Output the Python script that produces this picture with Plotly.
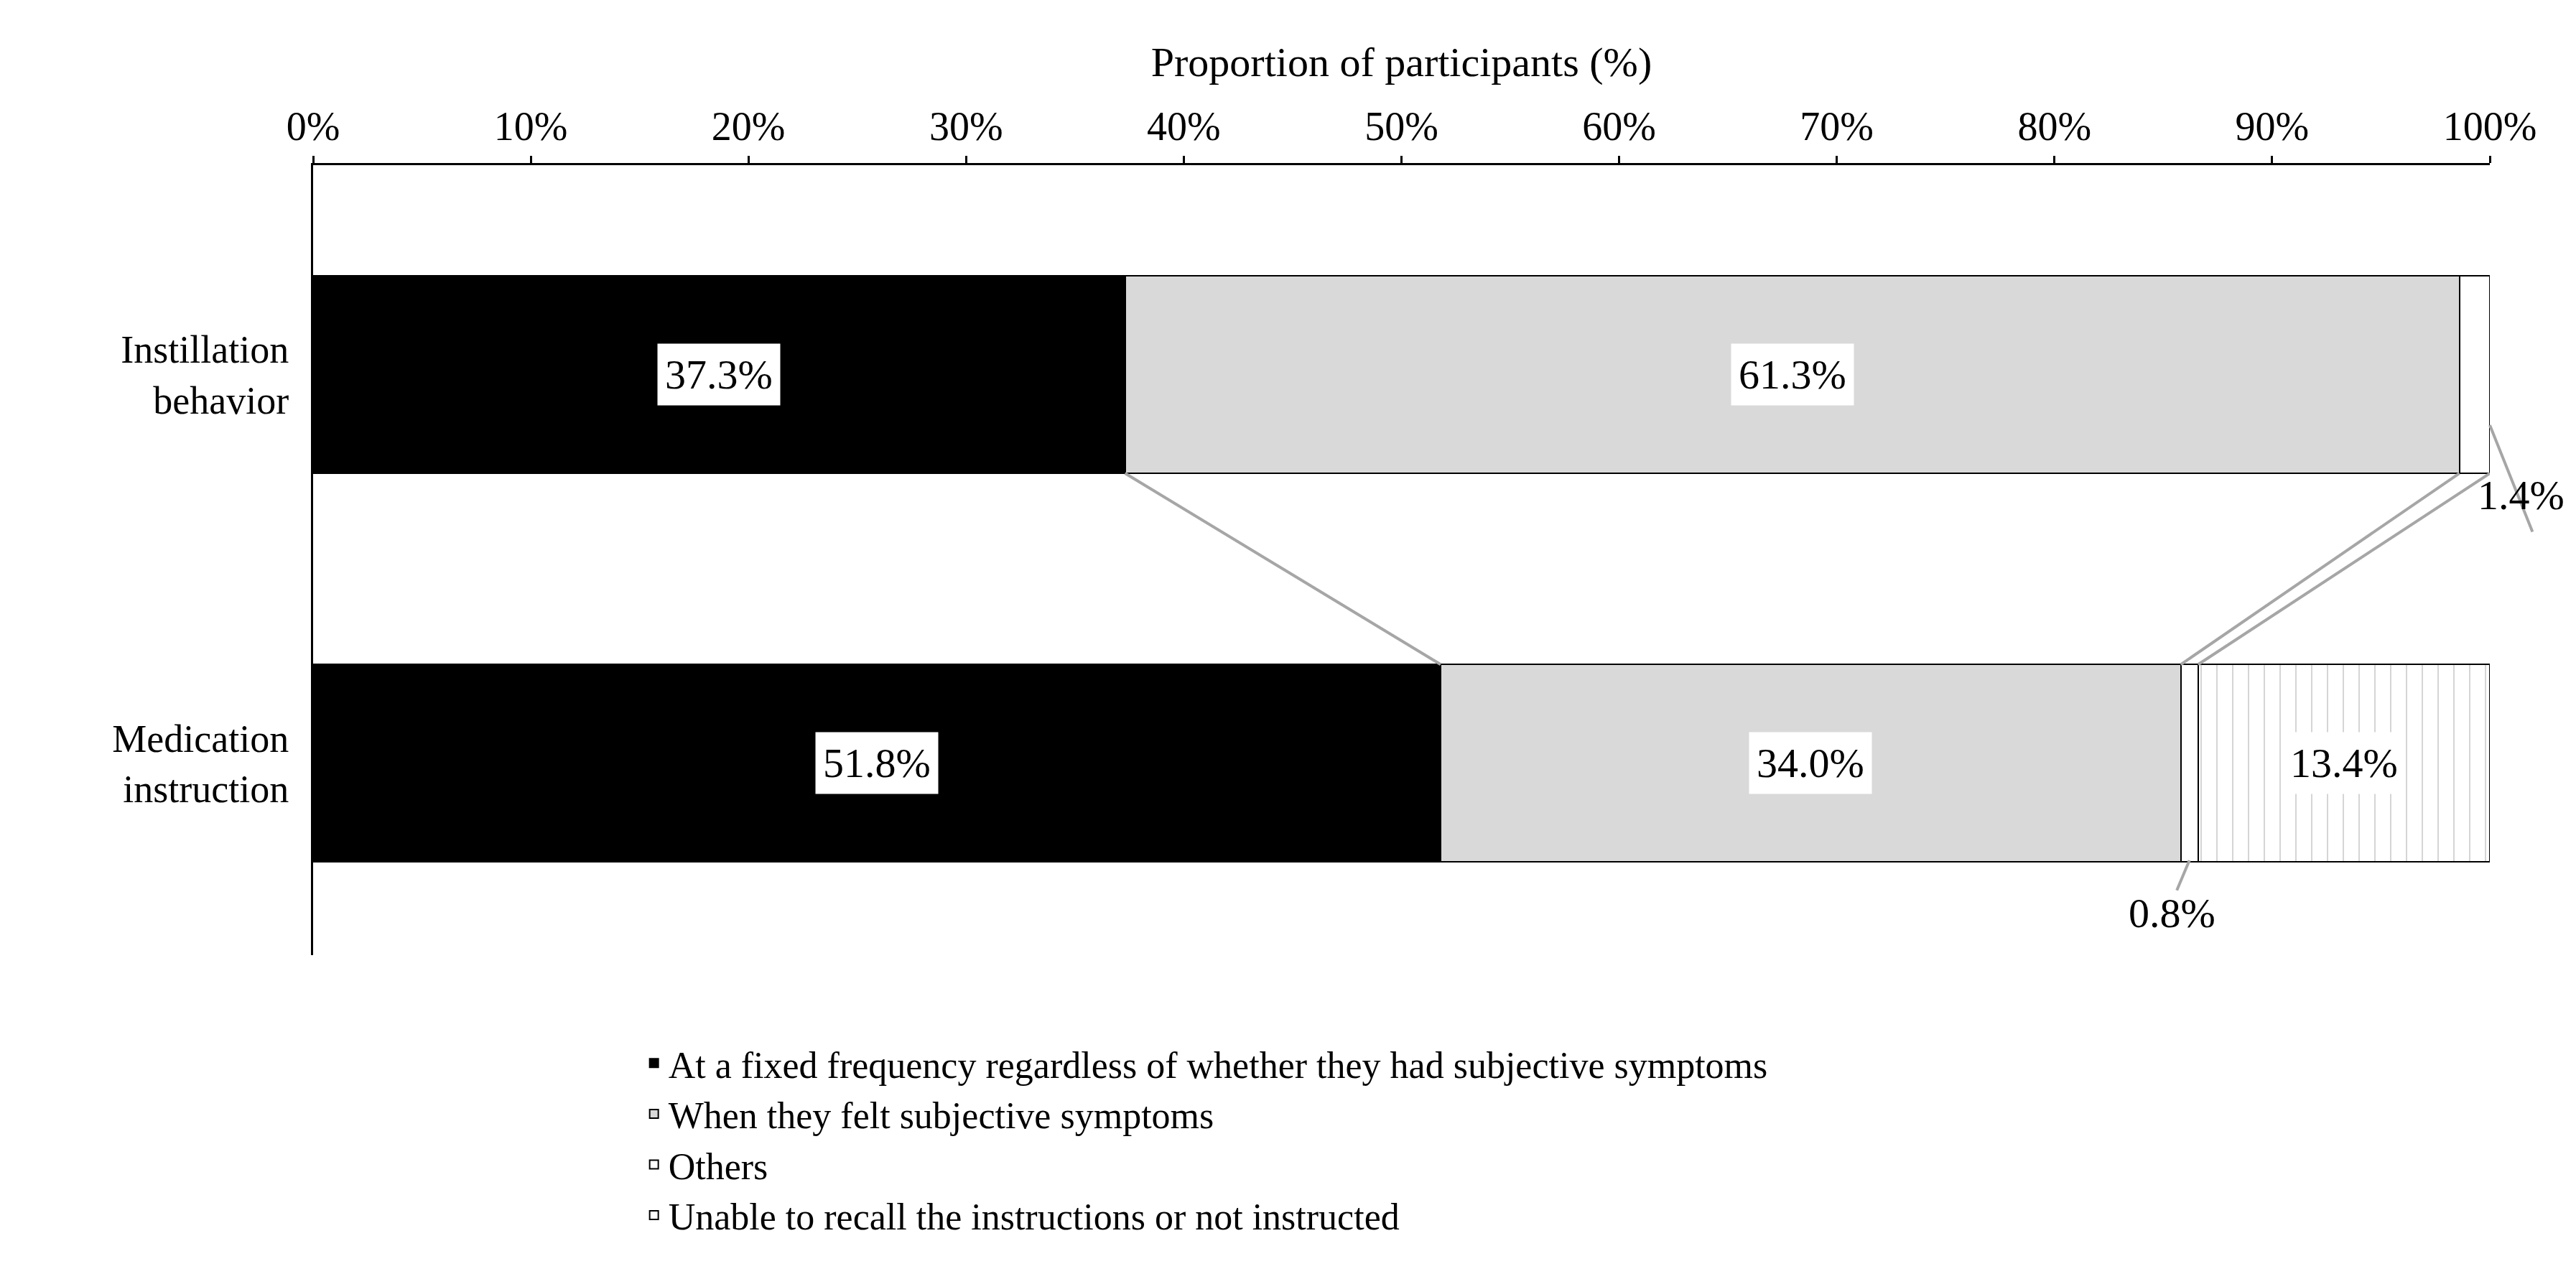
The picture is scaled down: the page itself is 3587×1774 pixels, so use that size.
import plotly.graph_objects as go

groups = ["Medication<br>instruction", "Instillation<br>behavior"]
series_names = [
    "At a fixed frequency regardless of whether they had subjective symptoms",
    "When they felt subjective symptoms",
    "Others",
    "Unable to recall the instructions or not instructed",
]
medication = [51.8, 34.0, 0.8, 13.4]
instillation = [37.3, 61.3, 1.4, 0.0]
colors = ["black", "#d9d9d9", "white", "white"]
patterns = ["", "", "", "|"]

FONT = "Liberation Serif"
ypos = [0, 1]
bw = 0.508

fig = go.Figure()
for i, name in enumerate(series_names):
    fig.add_trace(go.Bar(
        y=ypos, x=[medication[i], instillation[i]], name=name, orientation="h",
        width=bw, showlegend=False,
        marker=dict(color=colors[i], line=dict(color="black", width=2),
                    pattern=dict(shape=patterns[i], fgcolor="#a0a0a0", size=22, solidity=0.08)),
    ))
    # legend-only entries with bigger square keys
    fig.add_trace(go.Scatter(
        x=[None], y=[None], mode="markers", name=name,
        marker=dict(symbol="square", size=30, color=colors[i], line=dict(color="black", width=2)),
    ))

# labels inside bars
for row, y in ((medication, 0), (instillation, 1)):
    cum = 0
    for v in row:
        if v >= 5:
            fig.add_annotation(x=cum + v / 2, y=y, text=f"{v:.1f}%", showarrow=False,
                               bgcolor="white", font=dict(size=58, color="black", family=FONT),
                               borderpad=10)
        cum += v

# connector lines between the bars
cm, ci = 0, 0
for k in range(3):
    cm += medication[k]
    ci += instillation[k]
    fig.add_shape(type="line", x0=ci, x1=cm, y0=1 - bw / 2, y1=bw / 2,
                  line=dict(color="#a6a6a6", width=4))

# small value callouts
fig.add_annotation(x=100, y=0.87, ax=60, ay=150, text="", showarrow=True, arrowhead=0,
                   arrowcolor="#a6a6a6", arrowwidth=4)
fig.add_annotation(x=1.035, xref="paper", y=0.69, text=f"{instillation[2]:.1f}%", showarrow=False,
                   font=dict(size=58, family=FONT, color="black"))
fig.add_annotation(x=86.2, y=-0.25, ax=85.6, ay=-0.33, axref="x", ayref="y",
                   text="", showarrow=True, arrowhead=0, arrowcolor="#a6a6a6", arrowwidth=4)
fig.add_annotation(x=85.4, y=-0.385, text=f"{medication[2]:.1f}%", showarrow=False,
                   font=dict(size=58, family=FONT, color="black"))

fig.update_layout(
    barmode="stack", width=3587, height=1774, plot_bgcolor="white", paper_bgcolor="white",
    margin=dict(l=428, r=128, t=222, b=452),
    font=dict(family=FONT, size=56, color="black"),
    xaxis=dict(side="top", range=[0, 100], dtick=10, ticksuffix="%", showgrid=False,
               showline=True, linecolor="black", linewidth=3, ticks="outside", ticklen=10,
               tickcolor="black", tickwidth=3, tickfont=dict(size=56),
               title=dict(text="Proportion of participants (%)", font=dict(size=58), standoff=20)),
    yaxis=dict(range=[-0.494, 1.539], tickvals=ypos, ticktext=groups, showgrid=False,
               showline=True, linecolor="black", linewidth=3, zeroline=False, ticks="",
               tickfont=dict(size=54), ticklabelstandoff=20),
    legend=dict(x=0.15, y=-0.1, xanchor="left", yanchor="top", traceorder="normal",
                font=dict(size=52), tracegroupgap=0, itemsizing="constant"),
    showlegend=True,
)
fig.write_html("out.html")
